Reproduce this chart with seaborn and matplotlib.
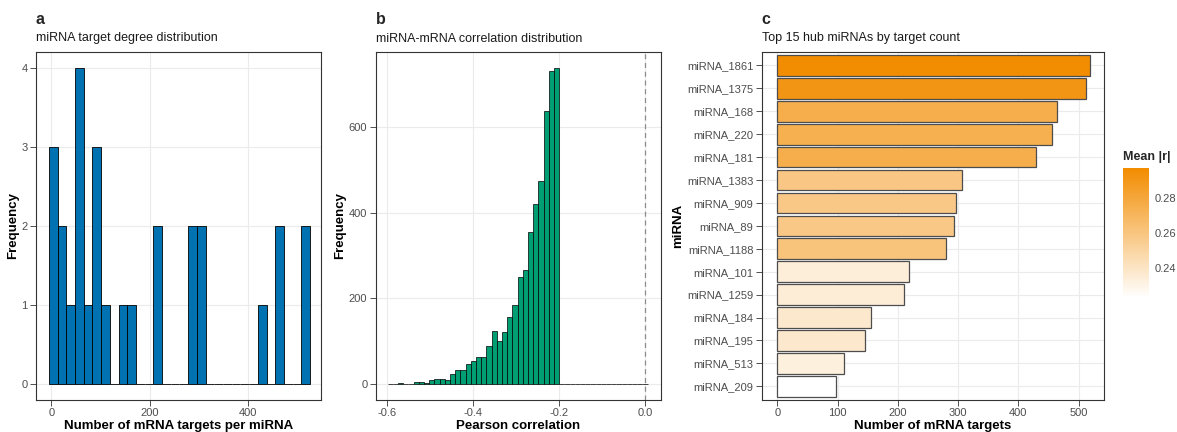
import numpy as np
import pandas as pd
import seaborn as sns
import matplotlib.pyplot as plt
from matplotlib.colors import LinearSegmentedColormap, Normalize
from matplotlib.cm import ScalarMappable

# panel a: number of mRNA targets per miRNA (28 miRNAs)
target_degrees = [4, 7, 11, 18, 25, 40, 50, 55, 59, 63, 74, 86, 91, 98, 110, 145, 156,
                  210, 218, 280, 293, 297, 307, 429, 456, 464, 512, 518]

# panel b: binned miRNA-mRNA Pearson correlations (50 bins, centres from corr_min to corr_max)
corr_min = -0.5925
corr_max = 0.0
corr_counts = [1, 1, 2, 1, 1, 4, 4, 3, 10, 12, 12, 10, 23, 33, 33, 46, 54, 63, 64, 89,
               123, 100, 122, 157, 184, 250, 267, 354, 420, 474, 637, 730, 739,
               0, 0, 0, 0, 0, 0, 0, 0, 0, 0, 0, 0, 0, 0, 0, 0, 0]

# panel c: top 15 hub miRNAs
hub_names = ['miRNA_1861', 'miRNA_1375', 'miRNA_168', 'miRNA_220', 'miRNA_181',
             'miRNA_1383', 'miRNA_909', 'miRNA_89', 'miRNA_1188', 'miRNA_101',
             'miRNA_1259', 'miRNA_184', 'miRNA_195', 'miRNA_513', 'miRNA_209']
hub_targets = [518, 512, 464, 456, 429, 307, 297, 293, 280, 218, 210, 156, 145, 110, 98]
hub_mean_r = [0.297, 0.291, 0.275, 0.274, 0.275, 0.259, 0.258, 0.258, 0.261, 0.234,
              0.235, 0.238, 0.238, 0.233, 0.223]

sns.set_theme(style='white')
plt.rcParams['font.family'] = ['Liberation Sans', 'DejaVu Sans']
plt.rcParams['axes.unicode_minus'] = False

W, H = 1177, 432
fig = plt.figure(figsize=(W / 100, H / 100), dpi=100)


def px_axes(left, top, right, bottom):
    return fig.add_axes([left / W, 1 - bottom / H, (right - left) / W, (bottom - top) / H])


def style_axes(ax):
    ax.set_facecolor('white')
    ax.grid(True, color='#EBEBEB', linewidth=0.8)
    ax.set_axisbelow(True)
    for sp in ax.spines.values():
        sp.set_visible(True)
        sp.set_color('#333333')
        sp.set_linewidth(0.8)
    ax.tick_params(axis='both', length=4, width=0.6, color='#333333', pad=2,
                   labelsize=8, labelcolor='#4D4D4D', bottom=True, left=True)


label_font = dict(fontsize=9.5, fontweight='bold', color='black')

# ---- panel a
ax_a = px_axes(36, 51.7, 321, 400)
deg = np.array(target_degrees, dtype=float)
w_a = (deg.max() - deg.min()) / 29
sns.histplot(x=deg, bins=30, binrange=(deg.min() - w_a / 2, deg.max() + w_a / 2),
             color='#0072B2', edgecolor='black', linewidth=0.6, alpha=1, ax=ax_a)
style_axes(ax_a)
ax_a.set_xlim(-31, 549)
ax_a.set_ylim(-0.2, 4.2)
ax_a.set_xticks([0, 200, 400])
ax_a.set_yticks([0, 1, 2, 3, 4])
ax_a.set_xlabel('Number of mRNA targets per miRNA', labelpad=1, **label_font)
ax_a.set_ylabel('Frequency', labelpad=2, **label_font)

# ---- panel b
ax_b = px_axes(375.7, 51.7, 661, 400)
w_b = (corr_max - corr_min) / (len(corr_counts) - 1)
centres = np.linspace(corr_min, corr_max, len(corr_counts))
sns.histplot(x=centres, weights=corr_counts, bins=len(corr_counts),
             binrange=(corr_min - w_b / 2, corr_max + w_b / 2),
             color='#009E73', edgecolor='black', linewidth=0.5, alpha=1, ax=ax_b)
style_axes(ax_b)
ax_b.axvline(0, color='#8C8C8C', linestyle=(0, (4, 3)), linewidth=0.9)
ax_b.set_xlim(-0.626, 0.037)
ax_b.set_ylim(-37, 776)
ax_b.set_xticks([-0.6, -0.4, -0.2, 0.0])
ax_b.set_xticklabels(['-0.6', '-0.4', '-0.2', '0.0'])
ax_b.set_yticks([0, 200, 400, 600])
ax_b.set_xlabel('Pearson correlation', labelpad=1, **label_font)
ax_b.set_ylabel('Frequency', labelpad=2, **label_font)

# ---- panel c
ax_c = px_axes(761.7, 51.7, 1104, 400)
cmap = LinearSegmentedColormap.from_list('wo', ['white', '#F28C00'])
norm = Normalize(min(hub_mean_r), max(hub_mean_r))
hub = pd.DataFrame({'miRNA': hub_names, 'targets': hub_targets, 'mean_r': hub_mean_r})
bar_colors = [cmap(norm(v)) for v in hub['mean_r']]
sns.barplot(data=hub, x='targets', y='miRNA', hue='miRNA', palette=bar_colors,
            legend=False, width=0.9, edgecolor='#4D4D4D', linewidth=0.9,
            saturation=1, ax=ax_c)
style_axes(ax_c)
ax_c.set_xlim(-25.8, 542)
ax_c.set_ylim(14.6, -0.6)
ax_c.set_xticks([0, 100, 200, 300, 400, 500])
ax_c.set_xlabel('Number of mRNA targets', labelpad=1, **label_font)
ax_c.set_ylabel('miRNA', labelpad=2, **label_font)

cax = px_axes(1123.3, 168, 1149, 298)
cb = fig.colorbar(ScalarMappable(norm=norm, cmap=cmap), cax=cax)
cb.outline.set_visible(False)
cb.set_ticks([0.24, 0.26, 0.28])
cax.tick_params(axis='y', direction='in', length=4, width=0.6, color='white',
                left=True, right=True, labelsize=8, labelcolor='#4D4D4D', pad=4)
fig.text(1123 / W, 1 - 157 / H, 'Mean |r|', fontsize=9, fontweight='bold',
         va='center', ha='left')

# panel letters and titles
for x0, letter, title in [(36, 'a', 'miRNA target degree distribution'),
                          (375.7, 'b', 'miRNA-mRNA correlation distribution'),
                          (761.7, 'c', 'Top 15 hub miRNAs by target count')]:
    fig.text(x0 / W, 1 - 20 / H, letter, fontsize=11.5, fontweight='bold', va='center', ha='left')
    fig.text(x0 / W, 1 - 38.5 / H, title, fontsize=9, color='#1A1A1A', va='center', ha='left')

fig.savefig('out.png', dpi=100)
